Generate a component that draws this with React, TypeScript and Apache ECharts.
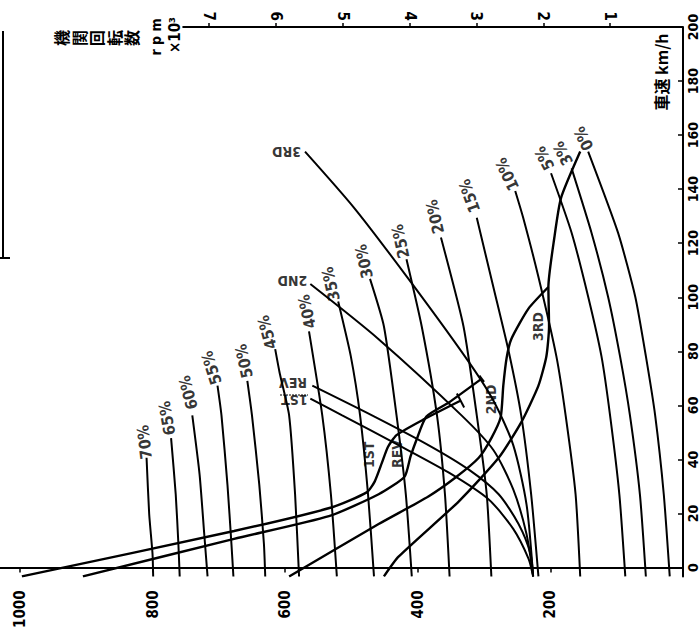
import React, { useEffect, useRef } from "react";
import * as echarts from "echarts";

const FONT = '"Liberation Sans Narrow", "DejaVu Sans Condensed", "Liberation Sans", "Noto Sans CJK JP", sans-serif';
const CJK = '"Noto Sans CJK JP", "Liberation Sans Narrow", sans-serif';

// axis ticks / labels
const forceTicks = [200, 400, 600, 800, 1000];
const speedTicks = [0, 20, 40, 60, 80, 100, 120, 140, 160, 180, 200];
const rpmTicks = [1, 2, 3, 4, 5, 6, 7];

// axis extents read from the frame
const forceRange = [0, 1030];
const speedRange = [-3.3, 200];
const rpmRange = [-0.09, 10.13];

// gradient-resistance curves: [driving force kg, vehicle speed km/h]
const grade70 = [[809, 40.6], [805, 19.7], [800, 5.1], [799, -3.3]];
const grade65 = [[772, 47.9], [765, 27.1], [761, 8.8], [759, -3.3]];
const grade60 = [[740, 56.3], [729, 34.4], [722, 12.4], [717, -3.3]];
const grade55 = [[702, 67.3], [696, 56.3], [687, 30.7], [681, 8.8], [678, -3.3]];
const grade50 = [[657, 69.1], [650, 56.3], [639, 30.7], [632, 8.8], [630, -3.3]];
const grade45 = [[615, 80.8], [608, 71.7], [594, 56.3], [585, 27.1], [579, -3.3]];
const grade40 = [[564, 87.4], [544, 56.3], [531, 27.1], [522, -3.3]];
const grade35 = [[520, 98.4], [501, 78.2], [487, 56.3], [475, 27.1], [466, -3.3]];
const grade30 = [[472, 106.8], [451, 89.2], [432, 56.3], [418, 27.1], [409, -3.3]];
const grade25 = [[417, 114.1], [394, 89.2], [371, 56.3], [359, 27.1], [352, -3.3]];
const grade20 = [[365, 122.1], [331, 89.2], [311, 56.3], [296, 27.1], [289, -3.3]];
const grade15 = [[311, 129.4], [286, 103.8], [263, 80.1], [244, 56.3], [229, 27.1], [218, -3.3]];
const grade10 = [[253, 139.3], [241, 129.4], [218, 107.5], [191, 78.2], [177, 56.3], [162, 27.1], [155, -3.3]];
const grade5 = [[199, 145.9], [168, 123.9], [143, 100.2], [123, 78.2], [110, 56.3], [96, 27.1], [87, -3.3]];
const grade3 = [[168, 147.7], [138, 123.9], [113, 100.2], [95, 78.2], [80, 56.3], [65, 27.1], [56, -3.3]];
const grade0 = [[143, 153.9], [98, 123.9], [72, 100.2], [56, 78.2], [42, 56.3], [29, 27.1], [20, -3.3]];

const gradeCurves = [grade70, grade65, grade60, grade55, grade50, grade45, grade40, grade35,
  grade30, grade25, grade20, grade15, grade10, grade5, grade3, grade0];
const gradeNames = ["70%", "65%", "60%", "55%", "50%", "45%", "40%", "35%",
  "30%", "25%", "20%", "15%", "10%", "5%", "3%", "0%"];
const gradeLabelPos = [[812, 46.4], [778, 55.2], [746, 64.7], [711, 73.9], [662, 76.4], [627, 87.0],
  [567, 94.7], [531, 104.9], [481, 113.3], [426, 120.7], [374, 129.8], [322, 137.5],
  [265, 145.5], [209, 151.4], [181, 153.2], [150, 158.7]];
const gradeLabelRot = [97, 100, 105, 108, 102, 105, 102, 103, 102, 102, 103, 110, 115, 118, 118, 117];

// full-throttle driving force per gear
const force1st = [[997, -3.3], [677, 13.5], [529, 22.3], [477, 27.8], [465, 31.8], [454, 38.8],
  [445, 44.6], [432, 49.0], [391, 54.8], [335, 61.8]];
const forceRev = [[905, -3.3], [677, 10.6], [534, 19.0], [459, 27.1], [420, 33.6], [411, 41.0],
  [402, 47.2], [387, 55.9], [353, 61.1], [304, 69.8]];
const force2nd = [[594, -3.3], [459, 16.1], [384, 26.3], [343, 33.3], [308, 40.6], [289, 47.9],
  [275, 55.6], [271, 67.3], [266, 77.5], [259, 84.5], [233, 95.8], [203, 103.8]];
const force3rd = [[451, -3.3], [429, 4.0], [338, 24.5], [278, 40.6], [244, 53.7], [218, 67.3],
  [206, 78.2], [202, 89.2], [203, 103.8], [194, 122.1], [184, 136.7], [155, 153.9]];
const endTick1st = [[341, 64.4], [330, 59.2]];
const endTickRev = [[300, 68.7], [307, 71.0]];

// engine speed curves per gear (drawn in force/speed plane)
const rpm3rd = [[570, 153.9], [496, 133.1], [414, 106.8], [326, 77.1], [286, 61.8], [256, 45.3], [236, 23.4], [226, -3.3]];
const rpm2nd = [[562, 104.9], [459, 84.5], [334, 56.3], [286, 43.5], [256, 28.9], [236, 12.4], [226, -3.3]];
const rpmRev = [[559, 67.3], [469, 56.3], [384, 45.3], [323, 36.2], [278, 27.1], [248, 16.1], [230, 5.1], [226, -3.3]];
const rpm1st = [[562, 62.5], [514, 56.3], [429, 45.3], [353, 35.1], [293, 25.2], [256, 14.3], [233, 3.3], [226, -3.3]];

// top frame line along the rpm scale: [rpm x1000, speed]
const rpmFrame = [[-0.09, 200], [7.4, 200]];

// gear labels: [force, speed, text, rotation]
const gearLabels: [number, number, string, number][] = [
  [598, 153.9, "3RD", 180], [589, 106.0, "2ND", 180], [588, 68.4, "REV", 180], [586, 62.0, "1ST", 180],
  [474, 41.7, "1ST", 90], [432, 42.0, "REV", 90], [290, 62.2, "2ND", 90], [218, 89.2, "3RD", 90],
];

const line = (data: number[][], width: number, smooth: number | boolean = 0.2, xAxisIndex = 0) => ({
  type: "line",
  data,
  xAxisIndex,
  yAxisIndex: 0,
  symbol: "none",
  smooth,
  silent: true,
  lineStyle: { color: "#000", width },
  z: 2,
});

const plain = (v: number) => String(v);

export default function App() {
  const ref = useRef<HTMLDivElement>(null);
  useEffect(() => {
    document.body.style.margin = "0";
    const chart = echarts.init(ref.current!, null, { renderer: "svg" });

    const series: any[] = [];
    gradeCurves.forEach((c) => series.push(line(c, 2, 0.2)));
    [force1st, forceRev, force2nd, force3rd].forEach((c) => series.push(line(c, 2.4, 0.2)));
    [endTick1st, endTickRev].forEach((c) => series.push(line(c, 2, false)));
    [rpm3rd, rpm2nd, rpmRev, rpm1st].forEach((c) => series.push(line(c, 2, 0.25)));
    series.push(line(rpmFrame, 2, false, 1));

    const labelData: any[] = [];
    gradeNames.forEach((t, i) => {
      labelData.push({
        value: gradeLabelPos[i],
        label: { formatter: t, rotate: gradeLabelRot[i], fontSize: 16 },
      });
    });
    gearLabels.forEach(([f, s, t, r]) => {
      labelData.push({ value: [f, s], label: { formatter: t, rotate: r, fontSize: 14 } });
    });
    series.push({
      type: "scatter",
      xAxisIndex: 0,
      yAxisIndex: 0,
      symbolSize: 1,
      silent: true,
      itemStyle: { color: "rgba(0,0,0,0)" },
      label: {
        show: true,
        position: "inside",
        color: "#000",
        fontFamily: FONT,
        fontWeight: "bold",
        align: "center",
        verticalAlign: "middle",
      },
      data: labelData,
      z: 5,
    });

    const jpChars = ["機", "関", "回", "転", "数"];
    const jpX = [61, 79, 96, 114, 131];

    chart.setOption({
      animation: false,
      backgroundColor: "#fff",
      grid: { left: 0, right: 15, top: 27, bottom: 48, containLabel: false },
      xAxis: [
        {
          type: "value",
          position: "bottom",
          inverse: true,
          min: forceRange[0],
          max: forceRange[1],
          axisLine: { show: true, lineStyle: { color: "#000", width: 2 } },
          axisTick: { show: true, customValues: forceTicks, length: 5, lineStyle: { color: "#000", width: 1.5 } },
          axisLabel: { customValues: forceTicks, formatter: plain, rotate: 90, margin: 14, fontSize: 15, fontWeight: "bold", color: "#000", fontFamily: FONT },
          splitLine: { show: false },
        },
        {
          type: "value",
          position: "top",
          inverse: true,
          min: rpmRange[0],
          max: rpmRange[1],
          axisLine: { show: false },
          axisTick: { show: true, customValues: rpmTicks, length: 4, lineStyle: { color: "#000", width: 1.5 } },
          axisLabel: { customValues: rpmTicks, formatter: plain, rotate: 90, margin: 6, fontSize: 15, fontWeight: "bold", color: "#000", fontFamily: FONT },
          splitLine: { show: false },
        },
      ],
      yAxis: {
        type: "value",
        position: "right",
        min: speedRange[0],
        max: speedRange[1],
        axisLine: { show: true, lineStyle: { color: "#000", width: 2 } },
        axisTick: { show: true, inside: true, customValues: speedTicks, length: 5, lineStyle: { color: "#000", width: 1.5 } },
        axisLabel: { customValues: speedTicks, formatter: plain, rotate: 90, margin: 3, fontSize: 14, fontWeight: "bold", color: "#000", fontFamily: FONT },
        splitLine: { show: false },
      },
      graphic: [
        {
          type: "text",
          x: 661,
          y: 72,
          rotation: Math.PI / 2,
          style: { text: "車速 km/h", fill: "#000", font: `bold 16px ${CJK}`, align: "center", verticalAlign: "middle" },
        },
        ...jpChars.map((c, i) => ({
          type: "text",
          x: jpX[i],
          y: 38,
          rotation: Math.PI / 2,
          style: { text: c, fill: "#000", font: `bold 16px ${CJK}`, align: "center", verticalAlign: "middle" },
        })),
        {
          type: "text",
          x: 156,
          y: 37,
          rotation: Math.PI / 2,
          style: { text: "r p m", fill: "#000", font: `bold 14px ${FONT}`, align: "center", verticalAlign: "middle" },
        },
        {
          type: "text",
          x: 175,
          y: 35,
          rotation: Math.PI / 2,
          style: { text: "×10³", fill: "#000", font: `bold 15px ${FONT}`, align: "center", verticalAlign: "middle" },
        },
        { type: "line", shape: { x1: 3, y1: 31, x2: 3, y2: 258 }, style: { stroke: "#000", lineWidth: 2 } },
        { type: "line", shape: { x1: 0, y1: 258, x2: 10, y2: 258 }, style: { stroke: "#000", lineWidth: 2 } },
        { type: "line", shape: { x1: 280, y1: 395, x2: 308, y2: 395 }, style: { stroke: "#000", lineWidth: 1, lineDash: [2, 1] } },
      ],
      series,
    });
    return () => chart.dispose();
  }, []);
  return <div ref={ref} style={{ width: 700, height: 631 }} />;
}
